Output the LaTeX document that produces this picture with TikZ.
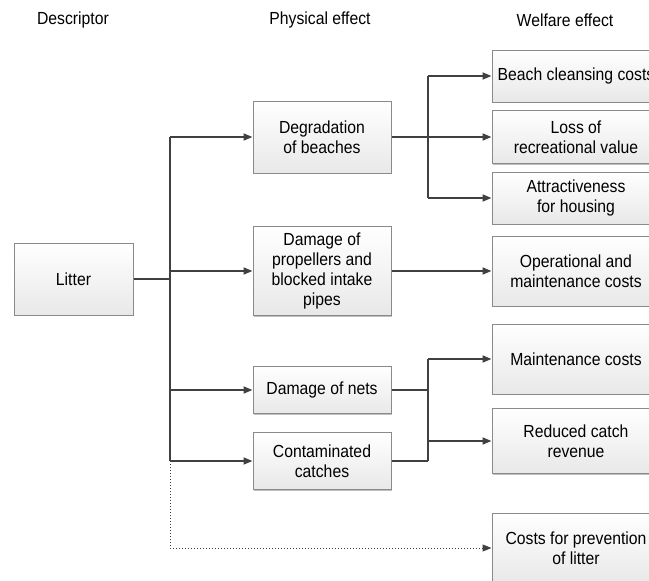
\documentclass[tikz,border=0pt]{standalone}
\usepackage{fontspec}
\setmainfont{Liberation Sans}[FakeStretch=0.9]
\usetikzlibrary{arrows.meta,shadows}
\definecolor{linec}{HTML}{404040}
\definecolor{boxline}{HTML}{8A8A8A}
\tikzset{
  box/.style={draw=boxline, line width=1pt, top color=white, bottom color=black!9,
    drop shadow={shadow xshift=1.2pt, shadow yshift=-1.2pt, opacity=0.25, fill=black},
    align=center, inner sep=2pt, font=\fontsize{17.5}{20}\selectfont},
  conn/.style={draw=linec, line width=1.8pt},
  arr/.style={conn, -{Triangle[length=9pt,width=7pt]}},
  head/.style={font=\fontsize{17.5}{20}\selectfont}
}
\begin{document}
\begin{tikzpicture}[x=1pt,y=-1pt]
\useasboundingbox (0,0) rectangle (649,581);
\clip (0,0) rectangle (649,581);
% headers
\node[head] (h1) at (73,20) {Descriptor};
\node[head] (h2) at (320,20) {Physical effect};
\node[head] (h3) at (565,20) {Welfare effect};
% left
\node[box, minimum width=119pt, minimum height=72pt] (lit) at (73.5,279) {Litter};
% middle
\node[box, minimum width=138pt, minimum height=72pt] (deg) at (322,137) {Degradation\\of beaches};
\node[box, minimum width=138pt, minimum height=89pt] (pro) at (322,271) {Damage of\\propellers and\\blocked intake\\pipes};
\node[box, minimum width=138pt, minimum height=47pt] (net) at (322,390) {Damage of nets};
\node[box, minimum width=138pt, minimum height=57pt] (cat) at (322,461) {Contaminated\\catches};
% right
\node[box, minimum width=168pt, minimum height=52pt] (bea) at (576,76) {Beach cleansing costs};
\node[box, minimum width=168pt, minimum height=53pt] (los) at (576,137) {Loss of\\recreational value};
\node[box, minimum width=168pt, minimum height=52pt] (att) at (576,198) {Attractiveness\\for housing};
\node[box, minimum width=168pt, minimum height=70pt] (ope) at (576,271) {Operational and\\maintenance costs};
\node[box, minimum width=168pt, minimum height=70pt] (mai) at (576,359) {Maintenance costs};
\node[box, minimum width=168pt, minimum height=65pt] (red) at (576,441) {Reduced catch\\revenue};
\node[box, minimum width=168pt, minimum height=70pt] (pre) at (576,548) {Costs for prevention\\of litter};
% trunk
\coordinate (j) at (170,279);
\coordinate (k) at (428,137);
\coordinate (m) at (428,390);
\draw[conn] (lit.east) -- (j);
\draw[conn] (j |- deg.west) -- (j |- cat.west);
\draw[arr] (j |- deg.west) -- (deg.west);
\draw[arr] (j |- pro.west) -- (pro.west);
\draw[arr] (j |- net.west) -- (net.west);
\draw[arr] (j |- cat.west) -- (cat.west);
\draw[draw=linec, line width=1pt, dotted, -{Triangle[length=9pt,width=7pt]}] (j |- cat.west) -- (j |- pre.west) -- (pre.west);
% degradation branch
\draw[conn] (deg.east) -- (k);
\draw[conn] (k |- bea.west) -- (k |- att.west);
\draw[arr] (k |- bea.west) -- (bea.west);
\draw[arr] (k) -- (los.west);
\draw[arr] (k |- att.west) -- (att.west);
% propellers
\draw[arr] (pro.east |- ope.west) -- (ope.west);
% nets & catches
\draw[conn] (net.east) -- (m);
\draw[conn] (cat.east) -- (m |- cat.east);
\draw[conn] (m |- mai.west) -- (m |- cat.east);
\draw[arr] (m |- mai.west) -- (mai.west);
\draw[arr] (m |- red.west) -- (red.west);
\end{tikzpicture}
\end{document}
